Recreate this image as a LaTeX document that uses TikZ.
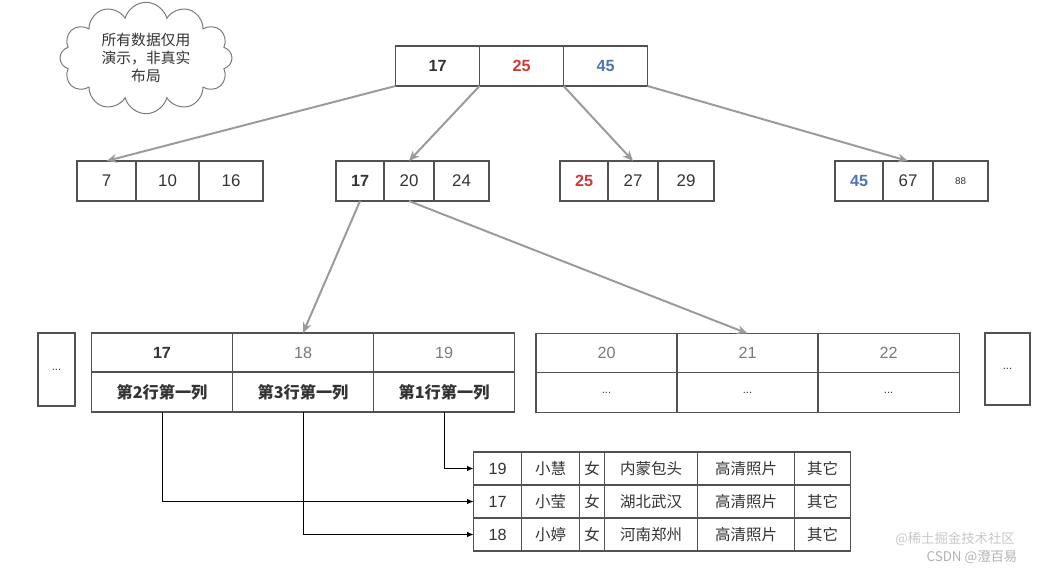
\documentclass[tikz,border=0pt]{standalone}
\usepackage{fontspec}
\setmainfont{Liberation Sans}
\newfontfamily\cjk{Noto Sans CJK SC}
\usetikzlibrary{positioning, arrows.meta, shapes.symbols}
\definecolor{ink}{HTML}{333333}
\definecolor{keyred}{HTML}{D03A35}
\definecolor{keyblue}{HTML}{5072B8}
\definecolor{soft}{HTML}{7A7A7A}
\definecolor{wire}{HTML}{9A9A9A}
\tikzset{cell/.style={draw=ink!85,line width=0.8pt,minimum height=1cm,inner sep=0pt,outer sep=0pt,text=ink,font=\fontsize{12}{14}\selectfont},
         key/.style={cell,minimum width=2.1cm,font=\fontsize{11.5}{13}\selectfont\bfseries},
         leaf/.style={cell,minimum width=3.525cm,minimum height=0.975cm,font=\fontsize{11.5}{13}\selectfont},
         row/.style={cell,minimum height=0.825cm,font=\cjk\fontsize{11}{13}\selectfont},
         pointer/.style={draw=wire,line width=1.4pt,-{Stealth[length=2.6mm,width=2.2mm]}},
         link/.style={draw=black,line width=0.7pt,-{Latex[length=1.6mm,width=1.4mm]}},
        }

\begin{document}
\begin{tikzpicture}[x=0.025cm,y=-0.025cm]
        \useasboundingbox (0,0) rectangle (1054,571);

        % note
        \node[cloud, draw=soft, line width=0.7pt, cloud puffs=12, aspect=1.8, minimum width=4.3cm, minimum height=2.5cm, align=center, text=ink, font=\cjk\fontsize{10.5}{13}\selectfont](note)at(146,58){所有数据仅用\\演示，非真实\\布局};

        % root
        \node[key](r1)at(437.5,66){17};
        \node[key, text=keyred, right=0pt of r1](r2){25};
        \node[key, text=keyblue, right=0pt of r2](r3){45};

        % second level
        \node[cell, minimum width=1.475cm](a1)at(106.5,181){7};
        \node[cell, minimum width=1.575cm, right=0pt of a1](a2){10};
        \node[cell, minimum width=1.6cm, right=0pt of a2](a3){16};

        \node[cell, minimum width=1.2cm, font=\fontsize{11.5}{13}\selectfont\bfseries](b1)at(360,181){17};
        \node[cell, minimum width=1.25cm, right=0pt of b1](b2){20};
        \node[cell, minimum width=1.375cm, right=0pt of b2](b3){24};

        \node[cell, minimum width=1.2cm, text=keyred, font=\fontsize{11.5}{13}\selectfont\bfseries](c1)at(584,181){25};
        \node[cell, minimum width=1.25cm, right=0pt of c1](c2){27};
        \node[cell, minimum width=1.4cm, right=0pt of c2](c3){29};

        \node[cell, minimum width=1.2cm, text=keyblue, font=\fontsize{11.5}{13}\selectfont\bfseries](d1)at(859,181){45};
        \node[cell, minimum width=1.25cm, right=0pt of d1](d2){67};
        \node[cell, minimum width=1.375cm, font=\fontsize{7}{8}\selectfont, right=0pt of d2](d3){88};

        \draw[pointer](r1.south west)--(a1.north);
        \draw[pointer](r1.south east)--(b2.north);
        \draw[pointer](r2.south east)--(c2.north);
        \draw[pointer](r3.south east)--(d2.north);

        % leaves
        \node[cell, minimum width=0.925cm, minimum height=1.825cm, font=\fontsize{8}{9}\selectfont](lx)at(56.5,369.5){...};
        \node[leaf, font=\fontsize{11.5}{13}\selectfont\bfseries](l1a)at(162,352.5){17};
        \node[leaf, text=soft, right=0pt of l1a](l1b){18};
        \node[leaf, text=soft, right=0pt of l1b](l1c){19};
        \node[leaf, minimum height=1cm, font=\cjk\fontsize{11.5}{13}\selectfont\bfseries, below=0pt of l1a](v1a){第2行第一列};
        \node[leaf, minimum height=1cm, font=\cjk\fontsize{11.5}{13}\selectfont\bfseries, below=0pt of l1b](v1b){第3行第一列};
        \node[leaf, minimum height=1cm, font=\cjk\fontsize{11.5}{13}\selectfont\bfseries, below=0pt of l1c](v1c){第1行第一列};

        \node[leaf, text=soft](l2a)at(606.5,353){20};
        \node[leaf, text=soft, right=0pt of l2a](l2b){21};
        \node[leaf, text=soft, right=0pt of l2b](l2c){22};
        \node[leaf, minimum height=1cm, font=\fontsize{8}{9}\selectfont, below=0pt of l2a](v2a){...};
        \node[leaf, minimum height=1cm, font=\fontsize{8}{9}\selectfont, below=0pt of l2b](v2b){...};
        \node[leaf, minimum height=1cm, font=\fontsize{8}{9}\selectfont, below=0pt of l2c](v2c){...};
        \node[cell, minimum width=1.125cm, minimum height=1.8cm, font=\fontsize{8}{9}\selectfont](ly)at(1007.5,369){...};

        \draw[pointer](b1.south)--(l1b.north);
        \draw[pointer](b2.south)--(l2b.north);

        % rows
        \node[row, minimum width=1.2cm, font=\fontsize{11.5}{13}\selectfont](t1a)at(497.5,468.5){19};
        \node[row, minimum width=1.45cm, right=0pt of t1a](t1b){小慧};
        \node[row, minimum width=0.625cm, right=0pt of t1b](t1c){女};
        \node[row, minimum width=2.325cm, right=0pt of t1c](t1d){内蒙包头};
        \node[row, minimum width=2.425cm, right=0pt of t1d](t1e){高清照片};
        \node[row, minimum width=1.4cm, right=0pt of t1e](t1f){其它};

        \node[row, minimum width=1.2cm, font=\fontsize{11.5}{13}\selectfont, below=0pt of t1a](t2a){17};
        \node[row, minimum width=1.45cm, right=0pt of t2a](t2b){小莹};
        \node[row, minimum width=0.625cm, right=0pt of t2b](t2c){女};
        \node[row, minimum width=2.325cm, right=0pt of t2c](t2d){湖北武汉};
        \node[row, minimum width=2.425cm, right=0pt of t2d](t2e){高清照片};
        \node[row, minimum width=1.4cm, right=0pt of t2e](t2f){其它};

        \node[row, minimum width=1.2cm, font=\fontsize{11.5}{13}\selectfont, below=0pt of t2a](t3a){18};
        \node[row, minimum width=1.45cm, right=0pt of t3a](t3b){小婷};
        \node[row, minimum width=0.625cm, right=0pt of t3b](t3c){女};
        \node[row, minimum width=2.325cm, right=0pt of t3c](t3d){河南郑州};
        \node[row, minimum width=2.425cm, right=0pt of t3d](t3e){高清照片};
        \node[row, minimum width=1.4cm, right=0pt of t3e](t3f){其它};

        \draw[link](v1a.south)|-(t2a.west);
        \draw[link](v1b.south)|-(t3a.west);
        \draw[link](v1c.south)|-(t1a.west);

        % watermark
        \node[text=black!22, font=\cjk\fontsize{9.5}{11}\selectfont](wm1)at(955,539){@稀土掘金技术社区};
        \node[text=black!30, font=\cjk\fontsize{9.5}{11}\selectfont](wm2)at(972,557){CSDN @澄百易};
\end{tikzpicture}
\end{document}
